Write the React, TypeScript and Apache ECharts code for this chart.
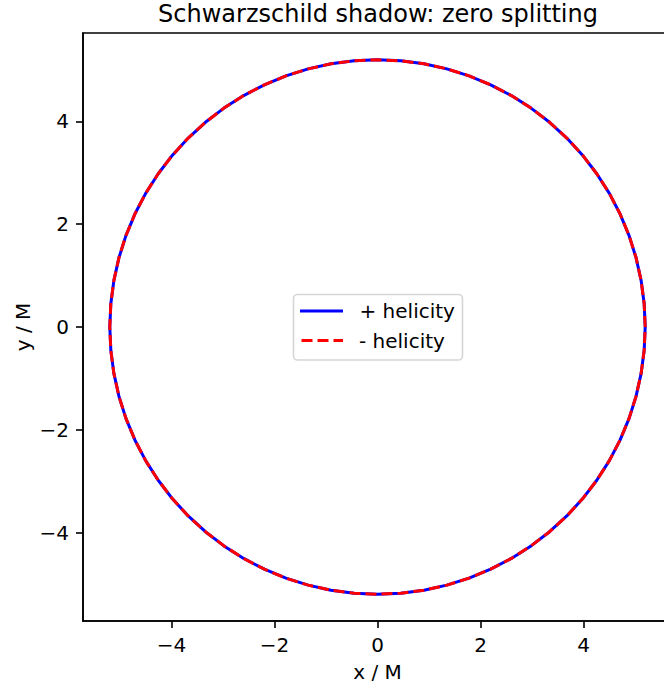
import React, { useEffect, useRef } from "react";
import * as echarts from "echarts";

const chartTitle = "Schwarzschild shadow: zero splitting";
const xAxisName = "x / M";
const yAxisName = "y / M";
const xTicks = [-4, -2, 0, 2, 4];
const yTicks = [-4, -2, 0, 2, 4];
const axisLimit = 5.716;
const seriesNames = ["+ helicity", "- helicity"];

// shadow boundary, read every 5 degrees (radius ~5.196)
const shadowX = [
  5.196, 5.176, 5.117, 5.019, 4.883, 4.709, 4.5, 4.256, 3.98, 3.674, 3.34, 2.98, 2.598, 2.196, 1.777, 1.345, 0.902, 0.453, 0,
  -0.453, -0.902, -1.345, -1.777, -2.196, -2.598, -2.98, -3.34, -3.674, -3.98, -4.256, -4.5, -4.709, -4.883, -5.019, -5.117, -5.176, -5.196,
  -5.176, -5.117, -5.019, -4.883, -4.709, -4.5, -4.256, -3.98, -3.674, -3.34, -2.98, -2.598, -2.196, -1.777, -1.345, -0.902, -0.453, 0,
  0.453, 0.902, 1.345, 1.777, 2.196, 2.598, 2.98, 3.34, 3.674, 3.98, 4.256, 4.5, 4.709, 4.883, 5.019, 5.117, 5.176, 5.196,
];
const shadowY = [
  0, 0.453, 0.902, 1.345, 1.777, 2.196, 2.598, 2.98, 3.34, 3.674, 3.98, 4.256, 4.5, 4.709, 4.883, 5.019, 5.117, 5.176, 5.196,
  5.176, 5.117, 5.019, 4.883, 4.709, 4.5, 4.256, 3.98, 3.674, 3.34, 2.98, 2.598, 2.196, 1.777, 1.345, 0.902, 0.453, 0,
  -0.453, -0.902, -1.345, -1.777, -2.196, -2.598, -2.98, -3.34, -3.674, -3.98, -4.256, -4.5, -4.709, -4.883, -5.019, -5.117, -5.176, -5.196,
  -5.176, -5.117, -5.019, -4.883, -4.709, -4.5, -4.256, -3.98, -3.674, -3.34, -2.98, -2.598, -2.196, -1.777, -1.345, -0.902, -0.453, 0,
];

const FONT = "DejaVu Sans";

export default function App() {
  const ref = useRef<HTMLDivElement>(null);
  useEffect(() => {
    if (!ref.current) return;
    const chart = echarts.init(ref.current, null, { renderer: "svg" });
    const pts = shadowX.map((x, i) => [x, shadowY[i]]);
    const fmt = (v: number) => (v < 0 ? "\u2212" + Math.abs(v) : String(v));
    const axisCommon = {
      type: "value" as const,
      min: -axisLimit,
      max: axisLimit,
      splitLine: { show: false },
      axisLine: { show: true, onZero: false, lineStyle: { color: "#000", width: 1.6 } },
      axisTick: { show: true, inside: false, length: 7, lineStyle: { color: "#000", width: 1.6 } },
      nameLocation: "middle" as const,
      nameTextStyle: { color: "#000", fontFamily: FONT, fontSize: 20 },
    };
    const labelCommon = {
      formatter: fmt,
      color: "#000",
      fontFamily: FONT,
      fontSize: 20,
      margin: 14,
    };
    chart.setOption({
      animation: false,
      backgroundColor: "#fff",
      grid: {
        left: 83,
        top: 33,
        width: 589,
        height: 588,
        show: true,
        borderColor: "#000",
        borderWidth: 1.6,
        backgroundColor: "transparent",
      },
      xAxis: {
        ...axisCommon,
        name: xAxisName,
        nameGap: 41,
        axisTick: { ...axisCommon.axisTick, customValues: xTicks },
        axisLabel: { ...labelCommon, customValues: xTicks },
      },
      yAxis: {
        ...axisCommon,
        axisTick: { ...axisCommon.axisTick, customValues: yTicks },
        axisLabel: { ...labelCommon, customValues: yTicks },
      },
      series: [
        {
          name: seriesNames[0],
          type: "line",
          data: pts,
          symbol: "none",
          smooth: false,
          lineStyle: { color: "#0000ff", width: 3 },
          z: 2,
        },
        {
          name: seriesNames[1],
          type: "line",
          data: pts,
          symbol: "none",
          smooth: false,
          lineStyle: { color: "#ff0000", width: 3, type: [11, 5] },
          z: 3,
        },
      ],
      graphic: [
        {
          type: "text",
          x: 378,
          y: 14,
          style: {
            text: chartTitle,
            fontFamily: FONT,
            fontSize: 24,
            fill: "#000",
            textAlign: "center",
            textVerticalAlign: "middle",
          },
          z: 100,
        },
        {
          type: "text",
          x: 22.5,
          y: 327,
          rotation: Math.PI / 2,
          style: {
            text: yAxisName,
            fontFamily: FONT,
            fontSize: 20,
            fill: "#000",
            textAlign: "center",
            textVerticalAlign: "middle",
          },
          z: 100,
        },
        {
          type: "rect",
          shape: { x: 293.5, y: 294.5, width: 169, height: 65.5, r: 4 },
          style: { fill: "rgba(255,255,255,0.8)", stroke: "rgba(204,204,204,0.8)", lineWidth: 1.6 },
          z: 100,
        },
        {
          type: "line",
          shape: { x1: 300, y1: 311, x2: 343, y2: 311 },
          style: { stroke: "#0000ff", lineWidth: 3 },
          z: 101,
        },
        {
          type: "line",
          shape: { x1: 301.5, y1: 340.5, x2: 343, y2: 340.5 },
          style: { stroke: "#ff0000", lineWidth: 3, lineDash: [11, 5] },
          z: 101,
        },
        {
          type: "text",
          x: 359.5,
          y: 311,
          style: {
            text: seriesNames[0],
            fontFamily: FONT,
            fontSize: 20,
            fill: "#000",
            textAlign: "left",
            textVerticalAlign: "middle",
          },
          z: 101,
        },
        {
          type: "text",
          x: 359,
          y: 340.5,
          style: {
            text: seriesNames[1],
            fontFamily: FONT,
            fontSize: 20,
            fill: "#000",
            textAlign: "left",
            textVerticalAlign: "middle",
          },
          z: 101,
        },
      ],
    });
    return () => chart.dispose();
  }, []);
  return (
    <div
      style={{
        position: "fixed",
        left: 0,
        top: 0,
        width: 664,
        height: 688,
        overflow: "hidden",
        background: "#fff",
      }}
    >
      <div ref={ref} style={{ width: 700, height: 688 }} />
    </div>
  );
}
